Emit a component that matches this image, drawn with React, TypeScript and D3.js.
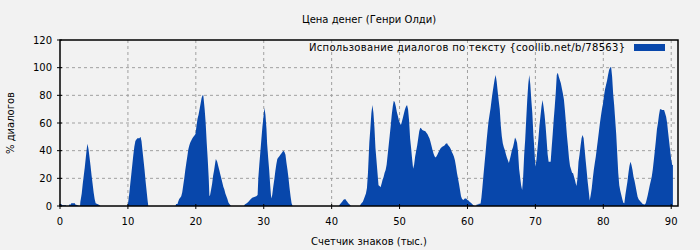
import React from 'react'
import * as d3 from 'd3'

// [thousand chars, % dialogue]
const dialogSeries: [number, number][] = [
  [0, 1.5], [0.2, 1.5], [0.3, 0.5], [0.85, 0.5], [0.9, 0], [1.3, 0], [1.35, 1], [1.6, 1],
  [1.65, 2], [2.2, 2], [2.25, 1], [2.5, 0.7], [2.8, 0], [2.95, 0], [3.0, 3], [3.2, 9],
  [3.35, 16], [3.5, 22], [3.65, 28], [3.8, 35], [3.95, 42], [4.05, 45], [4.2, 41], [4.35, 35],
  [4.5, 29], [4.65, 22], [4.8, 16], [4.95, 10], [5.1, 5], [5.25, 2], [5.5, 1.5], [5.8, 0.7],
  [5.95, 0], [9.95, 0], [10.05, 3], [10.2, 9], [10.35, 16], [10.5, 23], [10.65, 30], [10.8, 37],
  [10.95, 43], [11.1, 47], [11.25, 48], [11.4, 49], [11.7, 49], [11.85, 50], [12.0, 47], [12.15, 40],
  [12.3, 33], [12.45, 26], [12.6, 18], [12.75, 11], [12.9, 4], [13.0, 0], [17.0, 0], [17.1, 1.5],
  [17.3, 1.5], [17.4, 3], [17.55, 5], [17.7, 6], [17.85, 7], [18.0, 10], [18.15, 15], [18.3, 20],
  [18.45, 26], [18.6, 31], [18.75, 36], [18.9, 41], [19.05, 44], [19.2, 46], [19.35, 47.5], [19.5, 49],
  [19.65, 50], [19.8, 51], [19.95, 52], [20.1, 58], [20.25, 63], [20.4, 66], [20.55, 70], [20.7, 74],
  [20.85, 78], [21.0, 80], [21.1, 80], [21.3, 70], [21.45, 60], [21.6, 46], [21.75, 34], [21.9, 20],
  [22.0, 7], [22.1, 8], [22.25, 12], [22.4, 16], [22.55, 22], [22.7, 26], [22.85, 31], [22.95, 34],
  [23.15, 32], [23.3, 29], [23.45, 26], [23.6, 23], [23.75, 20], [23.9, 17], [24.05, 14], [24.2, 12],
  [24.35, 9], [24.5, 7], [24.65, 5], [24.8, 2.5], [24.95, 1.5], [25.1, 0.5], [25.2, 0], [27.1, 0],
  [27.2, 1], [27.5, 2], [27.75, 3], [28.0, 4.5], [28.3, 6], [28.6, 6.5], [28.9, 7], [29.1, 8],
  [29.2, 20], [29.35, 30], [29.5, 39], [29.65, 48], [29.8, 57], [29.95, 64], [30.1, 71], [30.25, 66],
  [30.4, 56], [30.5, 45], [30.65, 35], [30.8, 26], [30.95, 15], [31.1, 5.5], [31.25, 8], [31.4, 14],
  [31.55, 19], [31.7, 25], [31.85, 30], [32.0, 34], [32.15, 35], [32.3, 36], [32.45, 37], [32.6, 38],
  [32.75, 39], [32.9, 40], [33.05, 39], [33.2, 37], [33.35, 31], [33.5, 26], [33.65, 20], [33.8, 13],
  [33.95, 7], [34.1, 2], [34.25, 0], [41.05, 0], [41.2, 1], [41.45, 2.5], [41.6, 3.5], [41.75, 4.5],
  [42.0, 5], [42.15, 4], [42.3, 3], [42.45, 2], [42.65, 1], [42.85, 0], [44.15, 0], [44.3, 1.5],
  [44.6, 3], [44.75, 5], [44.9, 7], [45.05, 9], [45.2, 13], [45.35, 24], [45.45, 35], [45.55, 46],
  [45.7, 56], [45.85, 67], [46.0, 73], [46.15, 67.5], [46.3, 57], [46.45, 42], [46.6, 33], [46.75, 24],
  [46.9, 15], [47.05, 14.5], [47.2, 13.5], [47.35, 16], [47.5, 19], [47.65, 21], [47.8, 24], [47.95, 26],
  [48.1, 30], [48.25, 37], [48.4, 44], [48.55, 51], [48.7, 58], [48.85, 66], [49.0, 72], [49.15, 76],
  [49.3, 75], [49.45, 72], [49.6, 68], [49.75, 65], [49.9, 62], [50.05, 60], [50.2, 58.5], [50.35, 61],
  [50.5, 64], [50.65, 67], [50.8, 70], [50.95, 72], [51.1, 73], [51.25, 70], [51.4, 62], [51.55, 49],
  [51.7, 42], [51.85, 34], [52.0, 27], [52.15, 30], [52.3, 36], [52.45, 40], [52.6, 44], [52.75, 49],
  [52.9, 54], [53.05, 56.5], [53.2, 56], [53.35, 55], [53.5, 54.5], [53.8, 54], [53.95, 53], [54.1, 52],
  [54.25, 50.5], [54.4, 49], [54.55, 46.5], [54.7, 43.5], [54.85, 40.5], [55.0, 38], [55.15, 36], [55.3, 35],
  [55.45, 36], [55.6, 37.5], [55.75, 39], [55.9, 40.5], [56.05, 41.7], [56.2, 42.4], [56.35, 43], [56.5, 43.4],
  [56.65, 44], [56.8, 45], [57.0, 45.3], [57.1, 44.3], [57.25, 43.4], [57.4, 42.4], [57.55, 41], [57.7, 39],
  [57.85, 37.6], [58.0, 35.7], [58.15, 33], [58.3, 29], [58.45, 24], [58.6, 20], [58.75, 16], [58.9, 11.6],
  [59.05, 7], [59.2, 5], [59.4, 4.3], [59.6, 5.5], [59.8, 5.5], [60.0, 4.3], [60.15, 4], [60.3, 3],
  [60.5, 2.4], [60.7, 1.5], [60.85, 0.5], [61.0, 0], [61.3, 0], [61.35, 1], [61.6, 1], [61.65, 1.7],
  [61.9, 1.7], [61.95, 2.4], [62.05, 6], [62.2, 13.5], [62.35, 22], [62.5, 30], [62.65, 38], [62.8, 46.5],
  [62.95, 54], [63.1, 61], [63.25, 66], [63.4, 70.6], [63.55, 76.6], [63.7, 82], [63.85, 87], [64.0, 91.6],
  [64.15, 94.7], [64.3, 90], [64.45, 82.7], [64.6, 76], [64.75, 70], [64.9, 58.5], [65.05, 50.6], [65.2, 45.3],
  [65.35, 42.4], [65.5, 40.5], [65.65, 37.6], [65.8, 35], [65.95, 33], [66.1, 31], [66.25, 34], [66.4, 37],
  [66.55, 40.5], [66.7, 42.4], [66.85, 45.8], [67.0, 49.6], [67.15, 48], [67.3, 45.8], [67.45, 39], [67.6, 27],
  [67.75, 21], [67.9, 15], [68.05, 11.6], [68.2, 21], [68.35, 37], [68.5, 48], [68.65, 62.6], [68.8, 76.6],
  [68.95, 88], [69.1, 94.7], [69.25, 88], [69.4, 76.6], [69.55, 67], [69.7, 52], [69.85, 41], [70.0, 28.4],
  [70.15, 33], [70.3, 41], [70.45, 49], [70.6, 58], [70.75, 65], [70.9, 72], [71.05, 76.6], [71.2, 72],
  [71.35, 66], [71.5, 58], [71.65, 48], [71.8, 37.6], [71.95, 32], [72.25, 32], [72.4, 42.4], [72.55, 52],
  [72.7, 62.6], [72.85, 71.8], [73.0, 82], [73.15, 94.7], [73.3, 96.4], [73.45, 93.5], [73.6, 91], [73.75, 88.7],
  [73.9, 85], [74.05, 81.4], [74.2, 77], [74.35, 69], [74.5, 60], [74.65, 50.6], [74.8, 43], [74.95, 34.5],
  [75.1, 29], [75.25, 26.5], [75.4, 24], [75.55, 23.6], [75.7, 21], [75.85, 18.3], [75.95, 16], [76.05, 14.5],
  [76.2, 20], [76.35, 32], [76.5, 37], [76.65, 43.4], [76.8, 49], [76.95, 51.3], [77.1, 49], [77.25, 41],
  [77.4, 33], [77.55, 25.5], [77.7, 17.6], [77.85, 11], [78.0, 3.9], [78.15, 8], [78.3, 12.8], [78.45, 19.8],
  [78.6, 26], [78.75, 31], [78.9, 35.7], [79.05, 41.7], [79.2, 47.7], [79.35, 53.7], [79.5, 59.8], [79.65, 65],
  [79.8, 70], [79.95, 74], [80.1, 79.5], [80.25, 84.3], [80.4, 87.5], [80.55, 90.6], [80.7, 94.7], [80.85, 98.3],
  [81.0, 100], [81.15, 100.7], [81.3, 93.5], [81.45, 81.4], [81.6, 73], [81.75, 62.6], [81.9, 52], [82.05, 38],
  [82.2, 24], [82.35, 15], [82.5, 11], [82.65, 8], [82.8, 4.8], [82.95, 2.4], [83.1, 2], [83.25, 8],
  [83.4, 12.8], [83.55, 17.6], [83.7, 23.6], [83.85, 29], [84.0, 32], [84.15, 29.6], [84.3, 26], [84.45, 21.2],
  [84.6, 18.3], [84.75, 14.5], [84.9, 10.4], [85.05, 6.7], [85.2, 4.8], [85.35, 3.9], [85.5, 3.1], [85.65, 2.4],
  [85.8, 1.4], [86.1, 1], [86.25, 2], [86.4, 4.8], [86.55, 8], [86.7, 11.6], [86.85, 15.2], [87.0, 18.3],
  [87.15, 21.7], [87.3, 27], [87.45, 33.7], [87.6, 40.5], [87.75, 47.7], [87.9, 55.4], [88.05, 60], [88.2, 65.8],
  [88.35, 70], [88.5, 70], [88.65, 69.4], [88.95, 69.4], [89.1, 67], [89.25, 64.6], [89.4, 60], [89.55, 53],
  [89.7, 46.5], [89.85, 40], [90.0, 33.7], [90.15, 29.6], [90.25, 29.6],
]

const xTicks = [0, 10, 20, 30, 40, 50, 60, 70, 80, 90]
const yTicks = [0, 20, 40, 60, 80, 100, 120]

const title = 'Цена денег (Генри Олди)'
const legendLabel = 'Использование диалогов по тексту {coollib.net/b/78563}'
const xLabel = 'Счетчик знаков (тыс.)'
const yLabel = '% диалогов'

export default function App() {
  const width = 700,
    height = 250
  const left = 60,
    right = 678,
    top = 40,
    bottom = 206

  const xScale = d3.scaleLinear().domain([0, 91]).range([left, right])
  const yScale = d3.scaleLinear().domain([0, 120]).range([bottom, top])

  const area = d3.area<[number, number]>()
    .x(d => xScale(d[0]))
    .y0(yScale(0))
    .y1(d => yScale(d[1]))
    .curve(d3.curveLinear)

  const blue = '#0847ab'
  const font = 'DejaVu Sans, sans-serif'

  return (
    <svg width={width} height={height}
      style={{position: 'absolute', left: 0, top: 0, background: '#f2f2f2'}}
      fontFamily={font} fontSize={10}>
      <rect x={0} y={0} width={width} height={height} fill={'#f2f2f2'} />

      {/* grid */}
      {yTicks.filter(t => t > 0 && t < 120).map(t =>
        <line key={'gy' + t} x1={left} x2={right} y1={yScale(t)} y2={yScale(t)}
          stroke={'#a0a0a0'} strokeDasharray={'3,3'} />
      )}
      {xTicks.filter(t => t > 0).map(t =>
        <line key={'gx' + t} x1={xScale(t)} x2={xScale(t)} y1={top} y2={bottom}
          stroke={'#a0a0a0'} strokeDasharray={'3,3'} />
      )}

      <path d={area(dialogSeries) || ''} fill={blue} />

      {/* frame */}
      <rect x={left} y={top} width={right - left} height={bottom - top}
        fill={'none'} stroke={'#000'} strokeWidth={1.5} />

      {yTicks.map(t =>
        <g key={'ty' + t}>
          <line x1={left - 3} x2={left + 2} y1={yScale(t)} y2={yScale(t)} stroke={'#000'} />
          <text x={left - 8} y={yScale(t)} dy={'0.35em'} textAnchor={'end'}>{t}</text>
        </g>
      )}
      {xTicks.map(t =>
        <g key={'tx' + t}>
          <line x1={xScale(t)} x2={xScale(t)} y1={bottom - 2} y2={bottom + 3} stroke={'#000'} />
          <text x={xScale(t)} y={bottom + 15} dy={'0.35em'} textAnchor={'middle'}>{t}</text>
        </g>
      )}

      <text x={(left + right) / 2} y={19} dy={'0.35em'} textAnchor={'middle'}>{title}</text>
      <text x={(left + right) / 2} y={241} dy={'0.35em'} textAnchor={'middle'}>{xLabel}</text>
      <text transform={`translate(10,${(top + bottom) / 2}) rotate(-90)`} dy={'0.35em'}
        textAnchor={'middle'}>{yLabel}</text>

      {/* legend */}
      <text x={309} y={47} dy={'0.35em'} textLength={316} lengthAdjust={'spacing'}>{legendLabel}</text>
      <rect x={634} y={44} width={31} height={7} fill={blue} />
    </svg>
  )
}
